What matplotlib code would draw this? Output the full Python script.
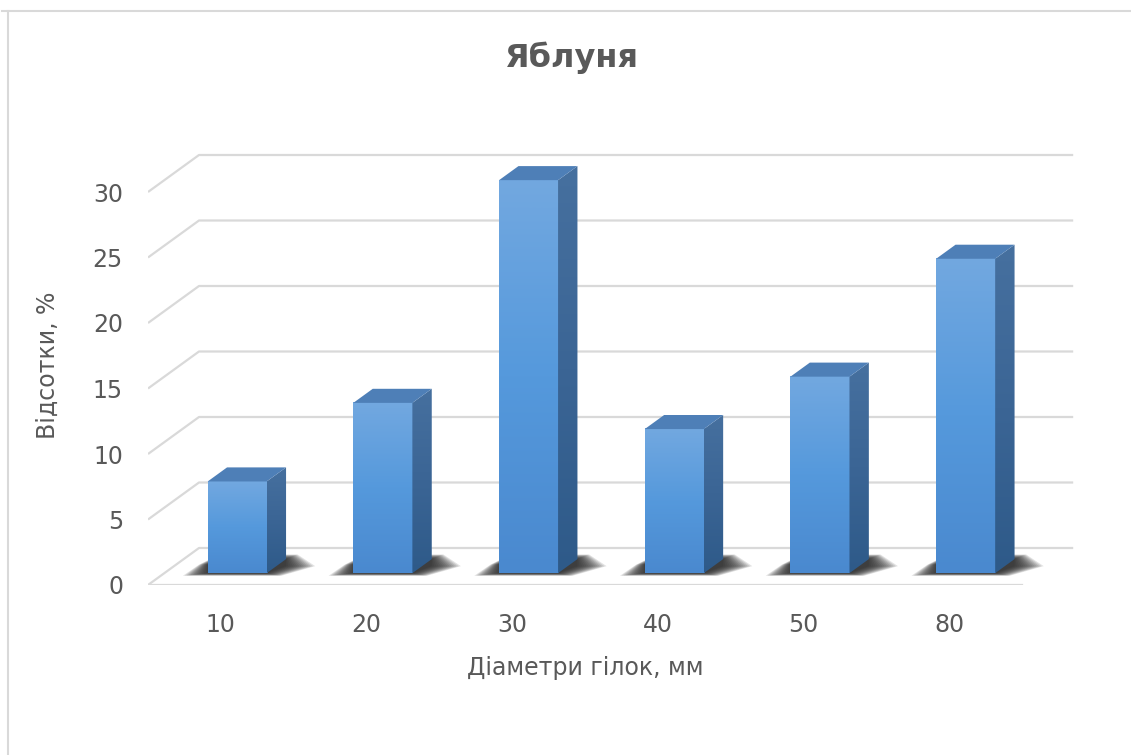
import numpy as np
import matplotlib
matplotlib.use('Agg')
import matplotlib.pyplot as plt
from matplotlib.colors import LinearSegmentedColormap
from matplotlib.patches import Polygon
from matplotlib.lines import Line2D

# Дані
categories = ['10', '20', '30', '40', '50', '80']
values = [7, 13, 30, 11, 15, 24]
yticks = [0, 5, 10, 15, 20, 25, 30]
title = 'Яблуня'
xlabel = 'Діаметри гілок, мм'
ylabel = 'Відсотки, %'

W, H = 1131, 755
fig = plt.figure(figsize=(W / 100, H / 100), dpi=100)

# геометрія псевдо-3D (в одиницях даних)
px_cat = 145.7      # пікселів на категорію
px_val = 13.1       # пікселів на одиницю значення
ddx = 51 / px_cat   # глибина підлоги по x
ddy = 37 / px_val   # глибина підлоги по y
f0, f1 = 0.32, 0.70 # передня та задня грань стовпця (частка глибини)
bw = 0.405          # ширина стовпця

xlim = (-0.5, 6.0)
ylim = (0, 36)
left, bottom = 148, 585
ax = fig.add_axes([left / W, (H - bottom) / H,
                   (xlim[1] - xlim[0]) * px_cat / W, (ylim[1] - ylim[0]) * px_val / H])

grid_c = '#d9d9d9'
text_c = '#595959'

# сітка на задній стінці та діагоналі
n = len(categories)
x_start, x_end = -0.5, n - 0.5
for v in yticks:
    ax.plot([x_start, x_start + ddx, x_end + ddx], [v, v + ddy, v + ddy],
            color=grid_c, lw=1.6, zorder=1, solid_capstyle='butt')
ax.plot([x_start, x_end], [0, 0], color=grid_c, lw=1.6, zorder=1)

front_cmap = LinearSegmentedColormap.from_list('front', ['#72a8e0', '#5599dc', '#4a89cf'])
side_cmap = LinearSegmentedColormap.from_list('side', ['#46709f', '#3b6595', '#2e5a89'])
top_c = '#4e7fb7'

for i, v in enumerate(values):
    xl = i - bw / 2 + f0 * ddx
    xr = i + bw / 2 + f0 * ddx
    yb = f0 * ddy
    yt = v + f0 * ddy
    dd = (f1 - f0) * ddx
    dy = (f1 - f0) * ddy

    # тінь на підлозі (розмита, шарами)
    for e in np.linspace(1.0, 0.0, 14):
        pts = [(xl - 0.17 * e, yb - 0.2 * e),
               (xr + 0.1 * e, yb - 0.2 * e),
               (xr + dd + 0.2 * e, yb + dy * 0.5),
               (xr + dd + 0.08 * e, yb + dy + 0.35 * e),
               (xl + dd * 0.6, yb + dy + 0.35 * e),
               (xl - 0.06 * e, yb + dy * 0.6)]
        ax.add_patch(Polygon(pts, closed=True, fc='#222222', ec='none', alpha=0.13, zorder=2))

    # передня грань
    grad = np.linspace(0, 1, 200).reshape(-1, 1)
    ax.imshow(grad, extent=(xl, xr, yb, yt), aspect='auto', cmap=front_cmap,
              origin='upper', zorder=4, interpolation='bilinear')

    # бокова грань
    side = Polygon([(xr, yb), (xr + dd, yb + dy), (xr + dd, yt + dy), (xr, yt)],
                   closed=True, fc='none', ec='none', zorder=4)
    ax.add_patch(side)
    im = ax.imshow(grad, extent=(xr, xr + dd, yb, yt + dy), aspect='auto', cmap=side_cmap,
                   origin='upper', zorder=4, interpolation='bilinear')
    im.set_clip_path(side)

    # верхня грань
    ax.add_patch(Polygon([(xl, yt), (xr, yt), (xr + dd, yt + dy), (xl + dd, yt + dy)],
                         closed=True, fc=top_c, ec='none', zorder=5))

ax.set_xlim(*xlim)
ax.set_ylim(*ylim)
ax.set_aspect('auto')
for s in ax.spines.values():
    s.set_visible(False)
ax.set_facecolor('none')
ax.set_xticks(range(n))
ax.set_xticklabels(categories)
ax.set_yticks(yticks)
ax.tick_params(length=0, labelsize=17, labelcolor=text_c)
ax.tick_params(axis='y', pad=18)
ax.tick_params(axis='x', pad=20)

fig.text(572 / W, 1 - 58 / H, title, ha='center', va='center', fontsize=23,
         fontweight='bold', color=text_c)
fig.text(585 / W, 1 - 668 / H, xlabel, ha='center', va='center', fontsize=17, color=text_c)
fig.text(48 / W, 1 - 365 / H, ylabel, ha='center', va='center', fontsize=17,
         color=text_c, rotation=90)

# рамка
fig.add_artist(Line2D([7.5 / W, 7.5 / W], [0, 1 - 10.5 / H], color=grid_c, lw=1.5))
fig.add_artist(Line2D([2 / W, 1], [1 - 10.5 / H, 1 - 10.5 / H], color=grid_c, lw=1.5))

fig.savefig('out.png', dpi=100)
